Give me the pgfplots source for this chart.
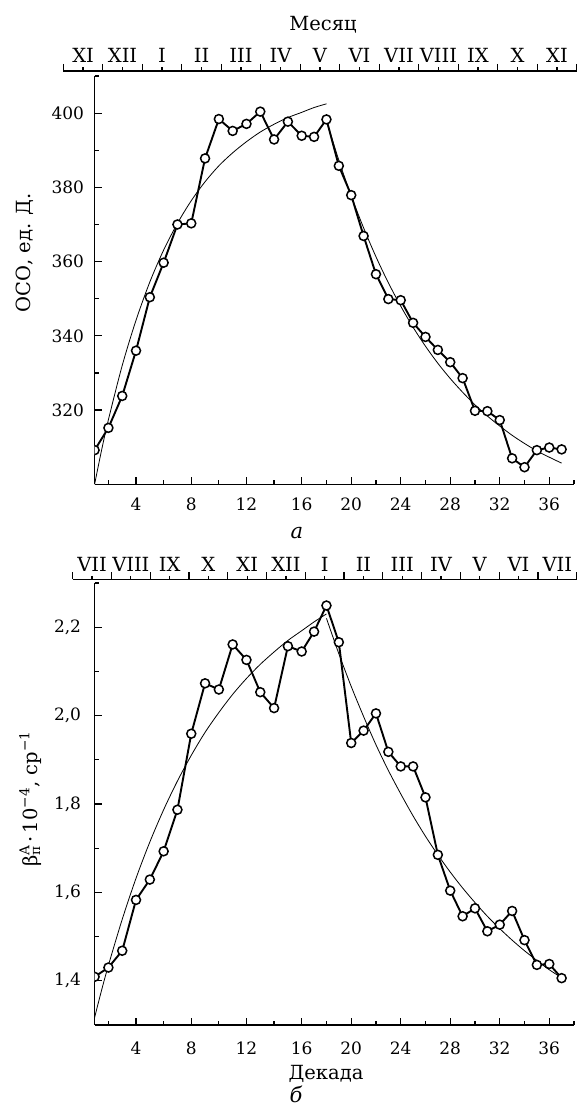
\documentclass[border=0pt]{standalone}
\usepackage{pgfplots}
\pgfplotsset{compat=1.18}
\usepackage{fontspec}
\setmainfont{DejaVu Serif}
\newcommand\tfont{\fontsize{17}{19}\selectfont}
\newcommand\lfont{\fontsize{19.5}{22}\selectfont}
\newcommand\cfont{\fontsize{21}{23}\selectfont\itshape}

\pgfplotsset{
  mainax/.style={
    scale only axis, width=479.4pt,
    axis x line*=bottom, axis y line*=left,
    axis line style={line width=1.4pt,-},
    xtick pos=left, ytick pos=left,
    tick align=inside,
    major tick length=7pt, minor tick length=4pt,
    tick style={line width=1.2pt, black},
    xmin=1, xmax=38,
    xtick={4,8,12,16,20,24,28,32,36},
    minor xtick={2,6,10,14,18,22,26,30,34,38},
    xticklabels={4,8,12,16,20,24,28,32,36},
    tick label style={font=\tfont},
    clip marker paths=true,
  },
  monthax/.style={
    scale only axis, height=10pt,
    xmin=0, xmax=13, ymin=0, ymax=1,
    axis x line*=top, hide y axis,
    axis line style={line width=1.4pt,-},
    xtick pos=right, xticklabel pos=right,
    tick align=outside,
    major tick length=3.5pt,
    tick style={line width=1.2pt, black},
    xtick={0.5,1.5,2.5,3.5,4.5,5.5,6.5,7.5,8.5,9.5,10.5,11.5,12.5},
    extra x ticks={0,1,2,3,4,5,6,7,8,9,10,11,12,13},
    extra x tick style={major tick length=7pt, xticklabel={}},
    xticklabel style={font=\lfont, yshift=1pt},
  },
  datastyle/.style={black, line width=1.9pt, mark=*, mark size=4.5pt,
    mark options={fill=white, line width=1.5pt, solid}},
  fitstyle/.style={black, line width=0.8pt, smooth, no marks},
}

\begin{document}
\begin{tikzpicture}
\useasboundingbox (0pt,0pt) rectangle (580pt,1106pt);

% ---------- top month axis ----------
\begin{axis}[monthax, at={(63.3pt,1035pt)}, anchor=north west, width=513.4pt,
  xticklabels={XI,XII,I,II,III,IV,V,VI,VII,VIII,IX,X,XI}]
\end{axis}

% ---------- top plot (a) ----------
\begin{axis}[mainax, at={(94.6pt,621.7pt)}, anchor=south west, height=408.3pt,
  x coord trafo/.code={\pgfmathparse{(#1)>16 ? 16+((#1)-16)*0.8965 : (#1)}},
  x coord inv trafo/.code={\pgfmathparse{(#1)>16 ? 16+((#1)-16)/0.8965 : (#1)}},
  ymin=300, ymax=410,
  ytick={320,340,360,380,400},
  minor ytick={310,330,350,370,390,410},
  yticklabels={320,340,360,380,400},
  yticklabel style={xshift=-7pt},
  xticklabel style={yshift=-10pt},
]
\addplot[fitstyle] coordinates {
 (1,300.0) (1.5,309.1) (2,317.4) (3,332.0) (4,344.2) (5,354.5) (6,363.1)
 (7,370.3) (8,376.4) (9,381.5) (10,385.8) (11,389.3) (12,392.3) (13,394.9)
 (14,397.0) (15,398.8) (16,400.2) (17,401.5) (18,402.5)};
\addplot[fitstyle] coordinates {
 (18,398.0) (19,387.3) (20,377.7) (21,369.1) (22,361.3) (23,354.3) (24,348.0)
 (25,342.3) (26,337.2) (27,332.6) (28,328.5) (29,324.8) (30,321.4) (31,318.4)
 (32,315.7) (33,313.2) (34,311.0) (35,309.0) (36,307.3) (37,305.7)};
\addplot[datastyle] coordinates {
 (1,309.2) (2,315.2) (3,323.8) (4,336.0) (5,350.4) (6,359.7) (7,370.0)
 (8,370.3) (9,387.8) (10,398.4) (11,395.2) (12,397.1) (13,400.4) (14,392.9)
 (15,397.7) (16,393.9) (17,393.6) (18,398.3) (19,385.8) (20,377.9) (21,366.9)
 (22,356.6) (23,349.9) (24,349.6) (25,343.5) (26,339.7) (27,336.2) (28,332.9)
 (29,328.6) (30,319.8) (31,319.7) (32,317.3) (33,307.0) (34,304.6) (35,309.2)
 (36,309.9) (37,309.4)};
\end{axis}

% ---------- bottom month axis ----------
\begin{axis}[monthax, at={(72.7pt,526.7pt)}, anchor=north west, width=504pt,
  xticklabels={VII,VIII,IX,X,XI,XII,I,II,III,IV,V,VI,VII}]
\end{axis}

% ---------- bottom plot (b) ----------
\begin{axis}[mainax, at={(94.6pt,81pt)}, anchor=south west, height=442pt,
  x coord trafo/.code={\pgfmathparse{(#1)>16 ? 16+((#1)-16)*0.8965 : (#1)}},
  x coord inv trafo/.code={\pgfmathparse{(#1)>16 ? 16+((#1)-16)/0.8965 : (#1)}},
  ymin=1.3, ymax=2.3,
  ytick={1.4,1.6,1.8,2.0,2.2},
  minor ytick={1.5,1.7,1.9,2.1,2.3},
  yticklabels={{1,4},{1,6},{1,8},{2,0},{2,2}},
  yticklabel style={xshift=-10pt},
  xticklabel style={yshift=-13pt},
]
\addplot[fitstyle] coordinates {
 (1,1.317) (1.5,1.378) (2,1.435) (3,1.539) (4,1.632) (5,1.714) (6,1.787)
 (7,1.852) (8,1.910) (9,1.962) (10,2.007) (11,2.048) (12,2.084) (13,2.116)
 (14,2.144) (15,2.170) (16,2.192) (17,2.212) (18,2.230)};
\addplot[fitstyle] coordinates {
 (18,2.220) (19,2.140) (20,2.066) (21,1.998) (22,1.934) (23,1.876) (24,1.823)
 (25,1.773) (26,1.727) (27,1.685) (28,1.646) (29,1.610) (30,1.577) (31,1.546)
 (32,1.518) (33,1.492) (34,1.468) (35,1.446) (36,1.425) (37,1.407)};
\addplot[datastyle] coordinates {
 (1,1.409) (2,1.430) (3,1.468) (4,1.583) (5,1.629) (6,1.693) (7,1.787)
 (8,1.959) (9,2.073) (10,2.059) (11,2.161) (12,2.126) (13,2.053) (14,2.017)
 (15,2.157) (16,2.145) (17,2.190) (18,2.249) (19,2.166) (20,1.938) (21,1.966)
 (22,2.005) (23,1.918) (24,1.885) (25,1.885) (26,1.815) (27,1.685) (28,1.604)
 (29,1.546) (30,1.564) (31,1.512) (32,1.527) (33,1.558) (34,1.492) (35,1.436)
 (36,1.438) (37,1.406)};
\end{axis}

% ---------- texts ----------
\node[font=\lfont, anchor=base] at (323pt,1075pt) {Месяц};
\node[font=\cfont, anchor=base] at (297pt,567pt) {а};
\node[font=\lfont, anchor=base] at (326pt,26pt) {Декада};
\node[font=\cfont, anchor=base, inner sep=0pt] at (296pt,4pt) {б};
\node[font=\lfont, rotate=90, anchor=base] at (30pt,853pt) {ОСО, ед. Д.};
\node[font=\lfont, rotate=90, anchor=base] at (37pt,307pt)
  {β\rlap{\textsuperscript{A}}\textsubscript{π}\,·\,10\textsuperscript{−4}, ср\textsuperscript{−1}};
\end{tikzpicture}
\end{document}
